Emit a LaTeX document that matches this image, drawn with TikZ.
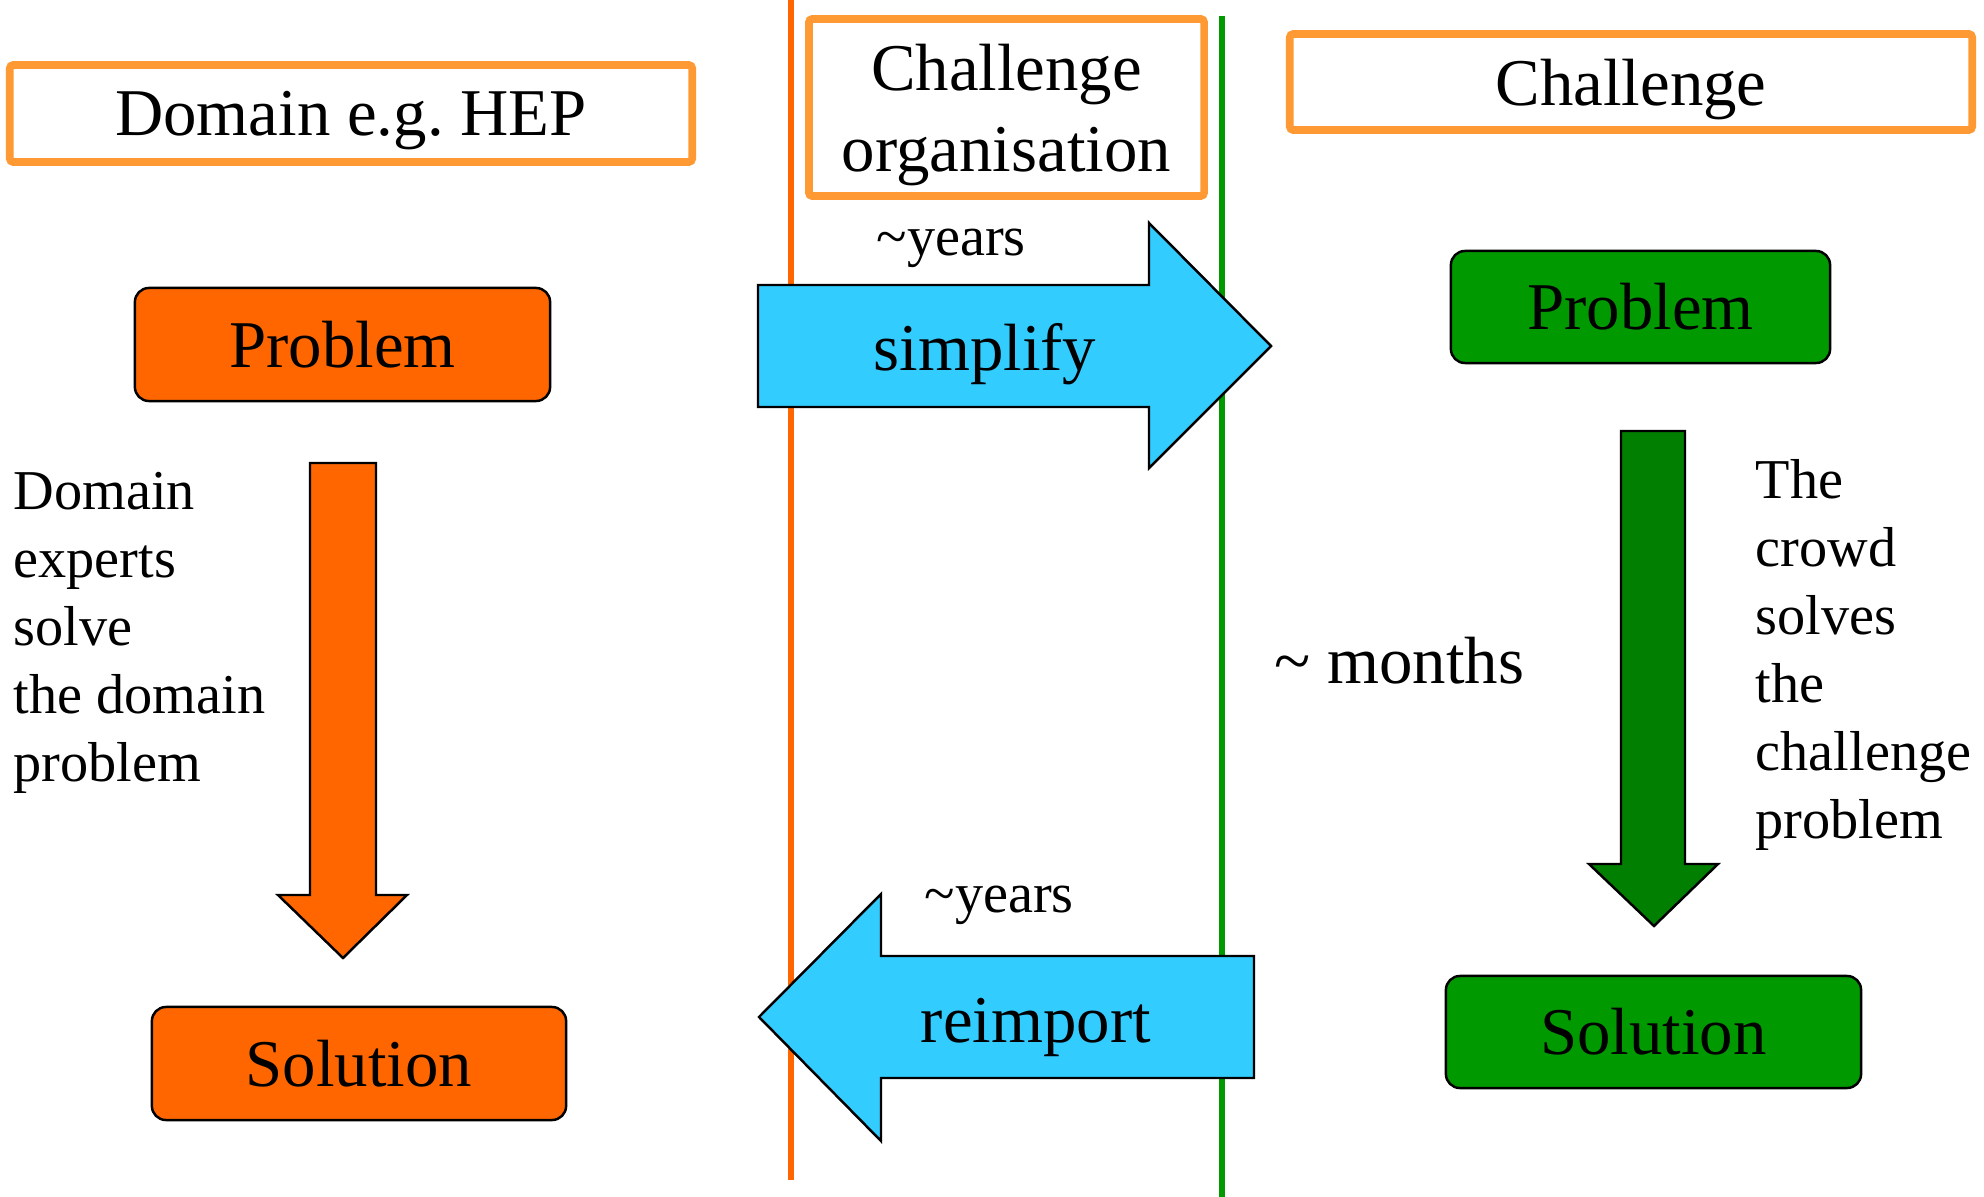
\documentclass[tikz,border=0pt]{standalone}
\usepackage{fontspec}
\setmainfont{Liberation Serif}
\usetikzlibrary{arrows.meta}
\definecolor{boxorange}{HTML}{FF9933}
\definecolor{deeporange}{HTML}{FF6600}
\definecolor{grassgreen}{HTML}{009900}
\definecolor{darkgreen}{HTML}{007F00}
\definecolor{skyblue}{HTML}{33CCFF}
\tikzstyle{heading}=[draw=boxorange, line width=2.2pt, rounded corners=1pt, inner sep=0pt, text depth=0pt, align=center, font=\fontsize{19}{23}\selectfont]
\tikzstyle{stage}=[draw=black, line width=0.7pt, rounded corners=4pt, inner sep=0pt, font=\fontsize{19}{23}\selectfont]
\tikzstyle{blockarrow}=[draw=black, line width=0.7pt, line join=miter]
\tikzstyle{big}=[inner sep=0pt, font=\fontsize{19}{23}\selectfont]
\tikzstyle{small}=[inner sep=0pt, align=left, font=\fontsize{16}{19.3}\selectfont]

\begin{document}
\begin{tikzpicture}[x=0.01cm, y=-0.01cm]
    \useasboundingbox (0,0) rectangle (1984,1197);
	% separators
	\draw[deeporange, line width=1.7pt] (791,0) -- (791,1180);
	\draw[grassgreen, line width=1.7pt] (1222,16) -- (1222,1197);
	% headings
	\node[heading, minimum width=6.82cm, minimum height=0.97cm] (domain) at (351,113.5) {Domain e.g.\ HEP};
	\node[heading, minimum width=3.95cm, minimum height=1.77cm] (orga) at (1006.5,107.5) {Challenge\\organisation};
	\node[heading, minimum width=6.82cm, minimum height=0.96cm] (chal) at (1631,82) {Challenge};
	% problems and solutions
	\node[stage, fill=deeporange, minimum width=4.15cm, minimum height=1.13cm] (dprob) at (342.5,344.5) {Problem};
	\node[stage, fill=deeporange, minimum width=4.14cm, minimum height=1.13cm] (dsol) at (359,1063.5) {Solution};
	\node[stage, fill=grassgreen, minimum width=3.79cm, minimum height=1.12cm] (cprob) at (1640.5,307) {Problem};
	\node[stage, fill=grassgreen, minimum width=4.15cm, minimum height=1.12cm] (csol) at (1653.5,1032) {Solution};
	% block arrows
	\draw[blockarrow, fill=deeporange] (310,463) -- (376,463) -- (376,895) -- (407,895) -- (343,958) -- (278,895) -- (310,895) -- cycle;
	\draw[blockarrow, fill=darkgreen] (1621,431) -- (1685,431) -- (1685,864) -- (1718,864) -- (1654,926) -- (1589,864) -- (1621,864) -- cycle;
	\draw[blockarrow, fill=skyblue] (758,285) -- (1149,285) -- (1149,223) -- (1271,346) -- (1149,468) -- (1149,407) -- (758,407) -- cycle;
	\draw[blockarrow, fill=skyblue] (1254,956) -- (881,956) -- (881,894) -- (759,1017) -- (881,1141) -- (881,1078) -- (1254,1078) -- cycle;
	% labels
	\node[big, anchor=base] (simp) at (985,370) {simplify};
	\node[big, anchor=base] (reimp) at (1036,1042) {reimport};
	\node[small, anchor=base west] (yrsA) at (876,255) {\textasciitilde years};
	\node[small, anchor=base west] (yrsB) at (924,912) {\textasciitilde years};
	\node[big, anchor=base west] (months) at (1274,683) {\textasciitilde{} months};
	\node[small, anchor=north west] (dtext) at (13,472) {Domain\\experts\\solve\\the domain\\problem};
	\node[small, anchor=north west] (ctext) at (1755,459) {The\\crowd\\solves\\the\\challenge\\problem};
\end{tikzpicture}
\end{document}
